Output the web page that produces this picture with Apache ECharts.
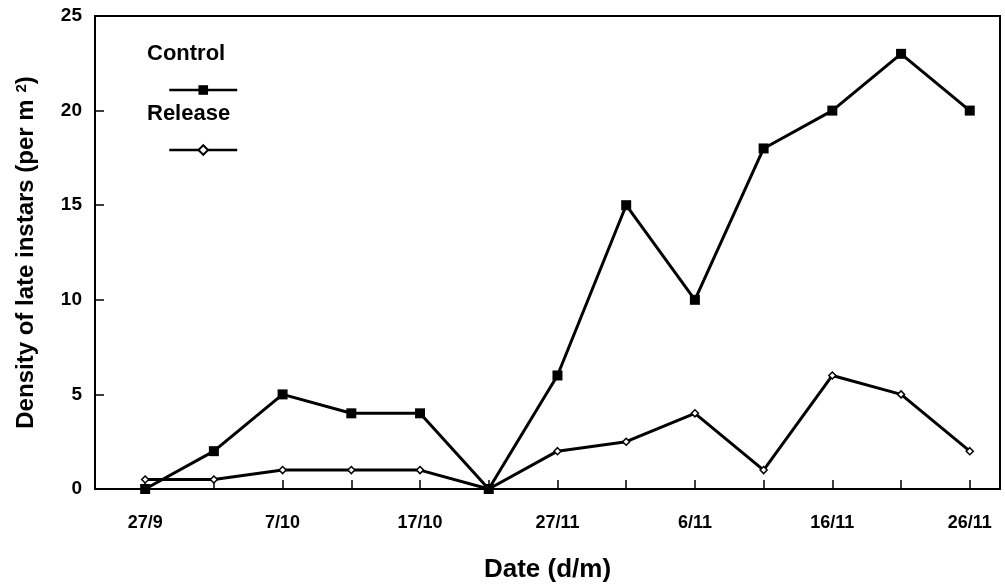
<!DOCTYPE html>
<html>
<head>
<meta charset="utf-8">
<script src="https://cdn.jsdelivr.net/npm/echarts@6/dist/echarts.min.js"></script>
<style>
  html, body { margin: 0; padding: 0; background: #fff; }
  #main { width: 1005px; height: 588px; }
</style>
</head>
<body>
<div id="main"></div>
<script>
// sampling dates (every other one is labelled)
var dates = ['27/9', '', '7/10', '', '17/10', '', '27/11', '', '6/11', '', '16/11', '', '26/11'];
var controlVals = [0, 2, 5, 4, 4, 0, 6, 15, 10, 18, 20, 23, 20];
var releaseVals = [0.5, 0.5, 1, 1, 1, 0, 2, 2.5, 4, 1, 6, 5, 2];
var yTicks = [0, 5, 10, 15, 20, 25];

var FONT = 'Liberation Sans';

function pairs(vals) {
  return vals.map(function (v, i) { return [i, v]; });
}
var tickIdx = dates.map(function (d, i) { return i; });
var labelIdx = tickIdx.filter(function (i) { return dates[i] !== ''; });

var chart = echarts.init(document.getElementById('main'), null, { renderer: 'canvas' });

var option = {
  animation: false,
  backgroundColor: '#fff',
  grid: {
    left: 95, right: 5, top: 16, bottom: 98,
    show: true, borderColor: '#000', borderWidth: 2
  },
  legend: [{
    data: ['Control'],
    left: 163, top: 79,
    itemWidth: 68, itemHeight: 12,
    lineStyle: { width: 2.5 },
    formatter: function () { return ''; },
    textStyle: { fontSize: 1 }
  }, {
    data: ['Release'],
    left: 163, top: 139,
    itemWidth: 68, itemHeight: 12,
    lineStyle: { width: 2.5 },
    formatter: function () { return ''; },
    textStyle: { fontSize: 1 }
  }],
  graphic: [{
    type: 'text', left: 147, top: 43,
    style: { text: 'Control', font: 'bold 22px "' + FONT + '"', fill: '#000' }
  }, {
    type: 'text', left: 147, top: 103,
    style: { text: 'Release', font: 'bold 22px "' + FONT + '"', fill: '#000' }
  }],
  xAxis: {
    type: 'value',
    min: -0.73, max: 12.44,
    name: 'Date (d/m)',
    nameLocation: 'middle',
    nameGap: 68,
    nameTextStyle: { fontFamily: FONT, fontWeight: 'bold', fontSize: 26, color: '#000' },
    axisLine: { show: true, onZero: false, lineStyle: { color: '#000', width: 2 } },
    axisTick: {
      show: true, inside: true, length: 9,
      customValues: tickIdx,
      lineStyle: { color: '#000', width: 1.5 }
    },
    axisLabel: {
      customValues: labelIdx,
      margin: 25,
      fontFamily: FONT, fontWeight: 'bold', fontSize: 18, color: '#000',
      formatter: function (v) { return dates[Math.round(v)]; }
    },
    splitLine: { show: false }
  },
  yAxis: {
    type: 'value',
    min: 0, max: 25, interval: 5,
    name: '{a|Density of late instars (per m }{s|2}{a|)}',
    nameLocation: 'middle',
    nameGap: 57,
    nameTextStyle: {
      rich: {
        a: { fontFamily: FONT, fontWeight: 'bold', fontSize: 24, color: '#000' },
        s: { fontFamily: FONT, fontWeight: 'bold', fontSize: 15, color: '#000', verticalAlign: 'top', padding: [0, 0, 9, 0] }
      }
    },
    axisLine: { show: true, onZero: false, lineStyle: { color: '#000', width: 2 } },
    axisTick: { show: true, inside: true, length: 9, lineStyle: { color: '#000', width: 1.5 } },
    axisLabel: {
      margin: 13,
      fontFamily: FONT, fontWeight: 'bold', fontSize: 19, color: '#000',
      formatter: function (v) { return yTicks.indexOf(v) >= 0 ? String(v) : ''; }
    },
    splitLine: { show: false }
  },
  series: [{
    name: 'Control',
    type: 'line',
    data: pairs(controlVals),
    symbol: 'rect',
    symbolSize: 10,
    itemStyle: { color: '#000' },
    lineStyle: { color: '#000', width: 3 },
    z: 3
  }, {
    name: 'Release',
    type: 'line',
    data: pairs(releaseVals),
    symbol: 'diamond',
    symbolSize: 7,
    itemStyle: { color: '#fff', borderColor: '#000', borderWidth: 1.5 },
    lineStyle: { color: '#000', width: 3 },
    z: 2
  }]
};

chart.setOption(option);
</script>
</body>
</html>
